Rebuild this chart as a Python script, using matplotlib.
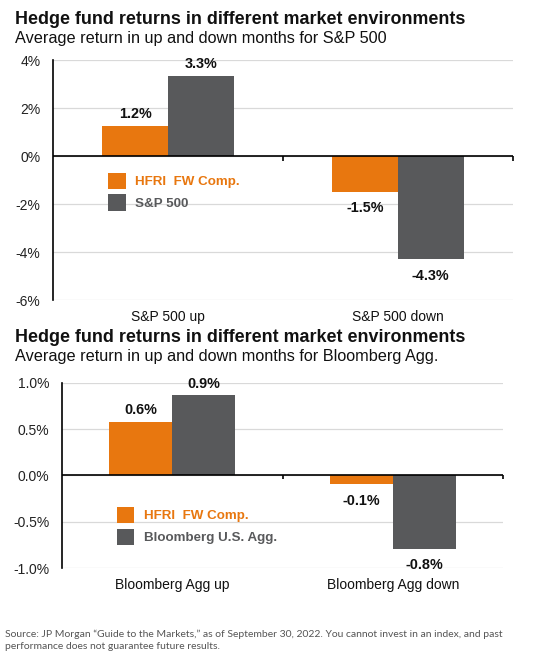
import matplotlib
matplotlib.use("Agg")
import matplotlib.pyplot as plt
from matplotlib.patches import Patch
import numpy as np

# ---- data ----
title = "Hedge fund returns in different market environments"
subtitle_1 = "Average return in up and down months for S&P 500"
subtitle_2 = "Average return in up and down months for Bloomberg Agg."

categories_1 = ["S&P 500 up", "S&P 500 down"]
hfri_1 = [1.24, -1.48]
sp500 = [3.32, -4.30]
series_names_1 = ["HFRI  FW Comp.", "S&P 500"]
yticks_1 = [4, 2, 0, -2, -4, -6]
yticklabels_1 = ["4%", "2%", "0%", "-2%", "-4%", "-6%"]

categories_2 = ["Bloomberg Agg up", "Bloomberg Agg down"]
hfri_2 = [0.58, -0.097]
agg = [0.865, -0.79]
series_names_2 = ["HFRI  FW Comp.", "Bloomberg U.S. Agg."]
yticks_2 = [1.0, 0.5, 0.0, -0.5, -1.0]
yticklabels_2 = ["1.0%", "0.5%", "0.0%", "-0.5%", "-1.0%"]

footer = ("Source: JP Morgan \u201cGuide to the Markets,\u201d as of September 30, 2022. You cannot invest in an index, and past\n"
          "performance does not guarantee future results.")

ORANGE = "#E8770F"
GRAY = "#58595B"
FONT = "Liberation Sans"

plt.rcParams["font.family"] = [FONT, "DejaVu Sans"]

fig = plt.figure(figsize=(5.33, 6.62), dpi=100)


def draw(ax, cats, s1, s2, names, yticks, yticklabels, ylim, legend_anchor,
         pos_pad, neg_pad):
    x = np.arange(len(cats))
    w = 0.285
    b1 = ax.bar(x - w / 2, s1, w, color=ORANGE, zorder=3)
    b2 = ax.bar(x + w / 2, s2, w, color=GRAY, zorder=3)
    for bars, vals in ((b1, s1), (b2, s2)):
        for rect, v in zip(bars, vals):
            cx = rect.get_x() + rect.get_width() / 2
            if v >= 0:
                ax.annotate(f"{v:.1f}%", (cx, v), xytext=(0, pos_pad),
                            textcoords="offset points", ha="center", va="bottom",
                            fontsize=10.4, fontweight="bold", color="#111111")
            else:
                ax.annotate(f"{v:.1f}%", (cx, v), xytext=(0, -neg_pad),
                            textcoords="offset points", ha="center", va="top",
                            fontsize=10.4, fontweight="bold", color="#111111")
    ax.set_xlim(-0.5, len(cats) - 0.5)
    ax.set_ylim(*ylim)
    ax.set_yticks(yticks)
    ax.set_yticklabels(yticklabels, fontsize=10, color="#222222")
    ax.set_xticks(x)
    ax.set_xticklabels(cats, fontsize=10, color="#111111")
    ax.tick_params(axis="both", length=0)
    ax.tick_params(axis="y", pad=9)
    ax.tick_params(axis="x", pad=7)
    ax.grid(axis="y", color="#D9D9D9", lw=0.9, zorder=0)
    ax.set_axisbelow(True)
    for s in ("top", "right", "bottom"):
        ax.spines[s].set_visible(False)
    ax.spines["left"].set_color("black")
    ax.spines["left"].set_linewidth(1.2)
    ax.axhline(0, color="black", lw=1.2, zorder=4)
    span = ylim[1] - ylim[0]
    ax.vlines([0.5, len(cats) - 0.5], 0, -span * 0.02, color="black", lw=1.2,
              zorder=4, clip_on=False)
    handles = [Patch(facecolor=ORANGE), Patch(facecolor=GRAY)]
    leg = ax.legend(handles, names, loc="upper left", bbox_to_anchor=legend_anchor,
                    frameon=False, handlelength=1.3, handleheight=1.5,
                    handletextpad=0.7, labelspacing=0.4, borderpad=0,
                    borderaxespad=0, prop={"family": FONT, "weight": "bold", "size": 9.6})
    for t, c in zip(leg.get_texts(), [ORANGE, GRAY]):
        t.set_color(c)


ax1 = fig.add_axes([53 / 533, 1 - 300 / 662, 460 / 533, 240 / 662])
draw(ax1, categories_1, hfri_1, sp500, series_names_1, yticks_1, yticklabels_1,
     (-6, 4), (0.12, 0.53), 4, 7)

ax2 = fig.add_axes([62 / 533, 1 - 568 / 662, 441 / 533, 185 / 662])
draw(ax2, categories_2, hfri_2, agg, series_names_2, yticks_2, yticklabels_2,
     (-1.0, 1.0), (0.125, 0.33), 3.5, 7)

fig.text(15 / 533, 1 - 19 / 662, title, fontsize=12.9, fontweight="bold",
         va="center", ha="left", color="#111111")
fig.text(15 / 533, 1 - 38 / 662, subtitle_1, fontsize=11.7, va="center",
         ha="left", color="#111111")
fig.text(15 / 533, 1 - 338 / 662, title, fontsize=12.9, fontweight="bold",
         va="center", ha="left", color="#111111")
fig.text(15 / 533, 1 - 357 / 662, subtitle_2, fontsize=11.7, va="center",
         ha="left", color="#111111")
fig.text(5 / 533, 1 - 640 / 662, footer, fontsize=7.5, va="center", ha="left",
         color="#555555", family=["Lato", "DejaVu Sans"], linespacing=1.4)

fig.savefig("out.png", dpi=100)
